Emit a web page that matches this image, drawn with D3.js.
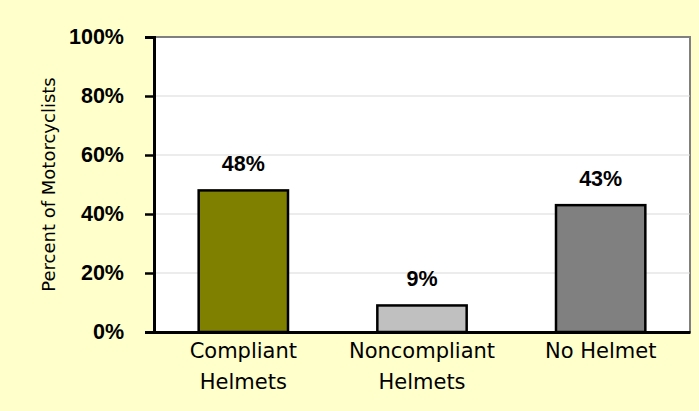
<!DOCTYPE html>
<html><head><meta charset="utf-8">
<script src="https://cdn.jsdelivr.net/npm/d3@7"></script>
<style>body{margin:0;background:#FFFFCC;}svg{display:block;}</style>
</head><body>
<svg id="c" width="699" height="411"></svg>
<script>
const categories = [["Compliant","Helmets"],["Noncompliant","Helmets"],["No Helmet"]];
const values = [48, 9, 43];
const colors = ["#808000", "#C0C0C0", "#808080"];
const yTicks = [0, 20, 40, 60, 80, 100];
const yTitle = "Percent of Motorcyclists";

const svg = d3.select("#c");
const W = 699, H = 411;
const m = {left:154, right:9, top:37, bottom:79};
svg.append("rect").attr("width",W).attr("height",H).attr("fill","#FFFFCC");
const x = d3.scaleBand().domain(d3.range(values.length)).range([m.left, W-m.right]).paddingInner(0.5).paddingOuter(0.25);
const y = d3.scaleLinear().domain([0,100]).range([H-m.bottom, m.top]);

// plot area
svg.append("rect").attr("x",m.left).attr("y",m.top).attr("width",W-m.right-m.left).attr("height",H-m.bottom-m.top)
  .attr("fill","#fff").attr("stroke","#808080").attr("stroke-width",2);
// gridlines
svg.append("g").selectAll("line").data(yTicks.filter(t=>t>0&&t<100)).join("line")
  .attr("x1",m.left).attr("x2",W-m.right).attr("y1",d=>y(d)).attr("y2",d=>y(d))
  .attr("stroke","#D9D9D9").attr("stroke-width",1.2);

// bars
svg.append("g").selectAll("rect").data(values).join("rect")
  .attr("x",(d,i)=>x(i)).attr("width",x.bandwidth())
  .attr("y",d=>y(d)).attr("height",d=>y(0)-y(d))
  .attr("fill",(d,i)=>colors[i]).attr("stroke","#000").attr("stroke-width",2.5);

// data labels
svg.append("g").selectAll("text").data(values).join("text")
  .attr("x",(d,i)=>x(i)+x.bandwidth()/2).attr("y",d=>y(d)-19)
  .attr("text-anchor","middle").attr("font-family","Liberation Sans, Arial, sans-serif").attr("font-weight","bold")
  .attr("font-size",21.5).attr("fill","#000").text(d=>d+"%");

// y axis
const yAxis = d3.axisLeft(y).tickValues(yTicks).tickFormat(d=>d+"%").tickSize(9).tickPadding(21);
const gy = svg.append("g").attr("transform",`translate(${m.left},0)`).call(yAxis);
gy.select(".domain").attr("stroke","#000").attr("stroke-width",3);
gy.selectAll(".tick line").attr("stroke","#000").attr("stroke-width",2.5);
gy.selectAll(".tick text").attr("font-family","Liberation Sans, Arial, sans-serif").attr("font-weight","bold").attr("font-size",21.5).attr("fill","#000");

// x axis
const xAxis = d3.axisBottom(x).tickSize(0).tickFormat("");
const gx = svg.append("g").attr("transform",`translate(0,${y(0)})`).call(xAxis);
gx.select(".domain").attr("stroke","#000").attr("stroke-width",3);
gx.selectAll(".tick").each(function(d){
  const t = d3.select(this).append("text").attr("text-anchor","middle").attr("fill","#000")
    .attr("font-family","DejaVu Sans").attr("font-size",21);
  categories[d].forEach((s,k)=>t.append("tspan").attr("x",0).attr("y",26+k*31).text(s));
});

// y title
svg.append("text").attr("transform",`translate(55,${(m.top+H-m.bottom)/2}) rotate(-90)`)
  .attr("text-anchor","middle").attr("font-family","DejaVu Sans").attr("font-size",18).attr("fill","#000").text(yTitle);
</script>
</body></html>
